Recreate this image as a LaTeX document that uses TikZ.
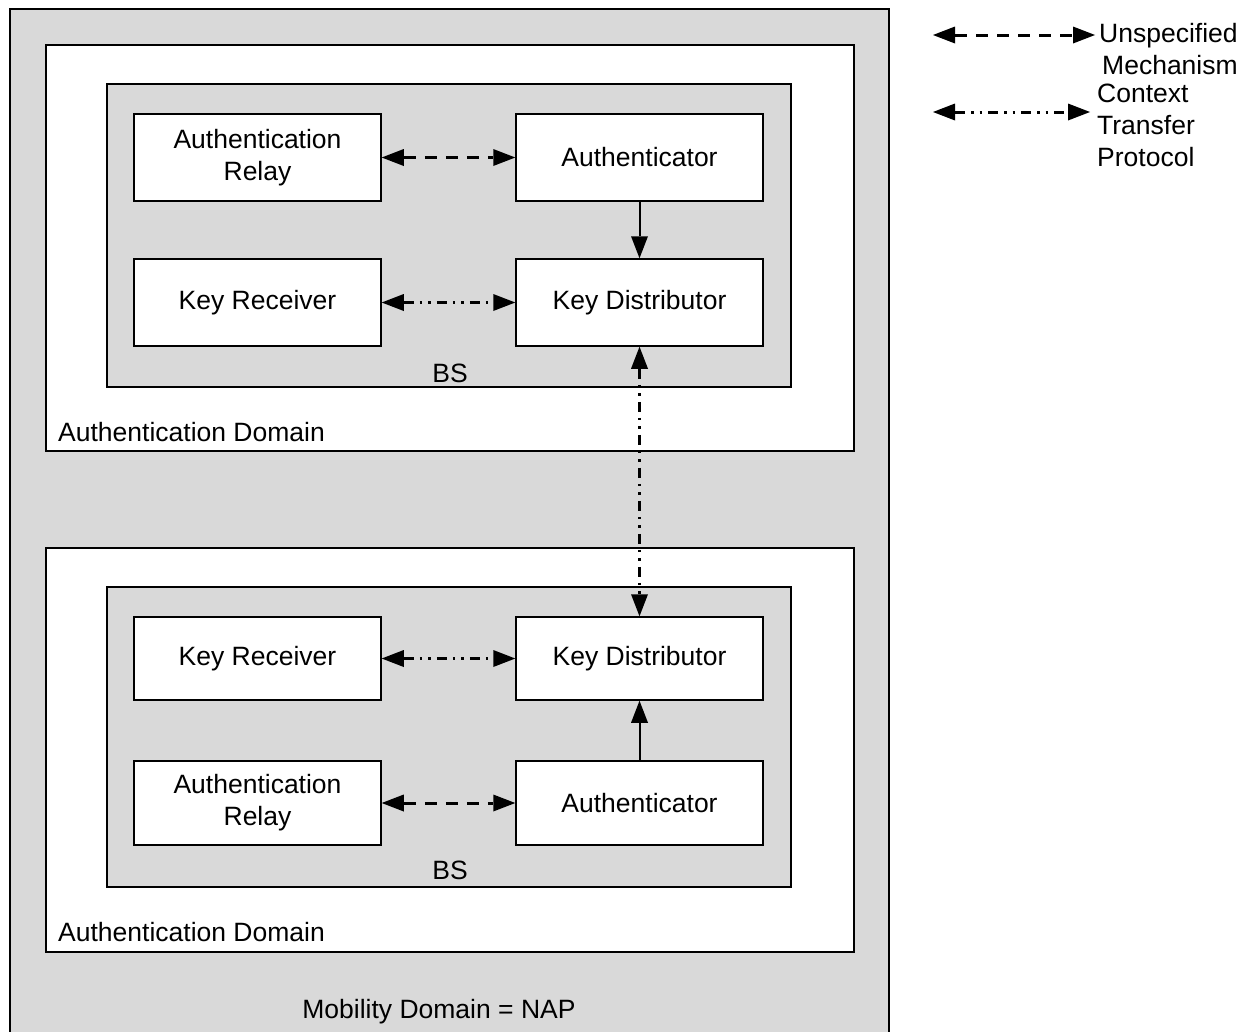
\documentclass[tikz,border=0pt]{standalone}
\usepackage{fontspec}
\setmainfont{Liberation Sans}
\usetikzlibrary{arrows.meta}
\definecolor{bggray}{RGB}{217,217,217}
\tikzset{
  base/.style={font=\fontsize{26.5}{32}\selectfont},
  frame/.style={draw=black, line width=1.5pt},
  unit/.style={frame, fill=white, minimum width=247pt, minimum height=87pt, align=center, inner sep=0pt, base},
  lbl/.style={base, inner sep=0pt},
  tip/.style={-{Triangle[length=22pt,width=17pt,line width=0pt]}},
  both/.style={{Triangle[length=22pt,width=17pt,line width=0pt]}-{Triangle[length=22pt,width=17pt,line width=0pt]}},
  conn/.style={line width=3pt},
  unspec/.style={conn, both, dash pattern=on 12pt off 9pt},
  ctp/.style={conn, both, dash pattern=on 10pt off 6pt on 2.5pt off 6pt on 2.5pt off 6pt},
}
\begin{document}
\begin{tikzpicture}[x=1pt, y=-1pt]
\useasboundingbox (0,0) rectangle (1250,1031);
% outer mobility domain
\draw[frame, fill=bggray] (10,9) rectangle (889,1040);
% authentication domains
\draw[frame, fill=white] (46,45) rectangle (854,451);
\draw[frame, fill=bggray] (107,84) rectangle (791,387);
\draw[frame, fill=white] (46,548) rectangle (854,952);
\draw[frame, fill=bggray] (107,587) rectangle (791,887);
% top BS units
\node[unit] (ar1) at (257.5,157.5) {Authentication\\Relay};
\node[unit] (au1) at (639.5,157.5) {Authenticator};
\node[unit] (kr1) at (257.5,302.5) {Key Receiver};
\node[unit] (kd1) at (639.5,302.5) {Key Distributor};
% bottom BS units
\node[unit, minimum height=83pt] (kr2) at (257.5,658.5) {Key Receiver};
\node[unit, minimum height=83pt] (kd2) at (639.5,658.5) {Key Distributor};
\node[unit, minimum height=84pt] (ar2) at (257.5,803) {Authentication\\Relay};
\node[unit, minimum height=84pt] (au2) at (639.5,803) {Authenticator};
% labels
\node[lbl] (bs1) at (450,373) {BS};
\node[lbl] (bs2) at (450,870) {BS};
\node[lbl, anchor=west] (ad1) at (58,432) {Authentication Domain};
\node[lbl, anchor=west] (ad2) at (58,932) {Authentication Domain};
\node[lbl] (md) at (439,1012) {Mobility Domain = NAP};
% connectors
\draw[unspec] (ar1.east) -- (au1.west);
\draw[ctp] (kr1.east) -- (kd1.west);
\draw[tip, line width=2pt] (au1.south) -- (kd1.north);
\draw[ctp] (kd1.south) -- (kd2.north);
\draw[ctp] (kr2.east) -- (kd2.west);
\draw[unspec] (ar2.east) -- (au2.west);
\draw[tip, line width=2pt] (au2.north) -- (kd2.south);
% legend
\coordinate (l1a) at (933,35);
\coordinate (l1b) at (1095,35);
\coordinate (l2a) at (933,112);
\coordinate (l2b) at (1090,112);
\draw[unspec] (l1a) -- (l1b);
\draw[ctp] (l2a) -- (l2b);
\node[lbl, anchor=west, align=left] (leg1) at (1099,49) {Unspecified\\\hspace*{3pt}Mechanism};
\node[lbl, anchor=west, align=left] (leg2) at (1097,125) {Context\\Transfer\\Protocol};
\end{tikzpicture}
\end{document}
